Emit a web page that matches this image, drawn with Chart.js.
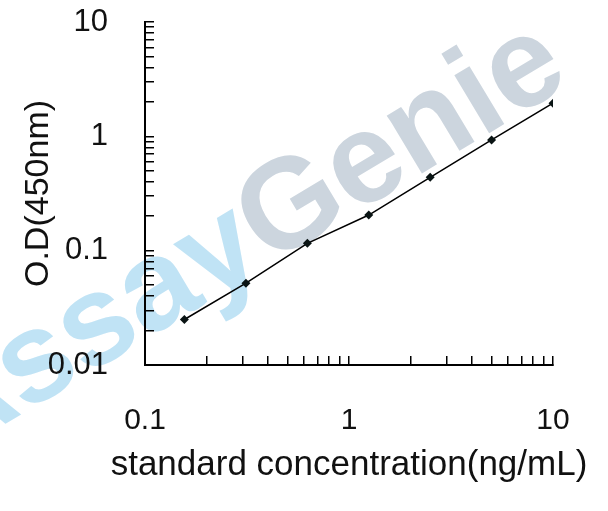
<!DOCTYPE html>
<html>
<head>
<meta charset="utf-8">
<script src="https://cdn.jsdelivr.net/npm/chart.js@4.4.0/dist/chart.umd.min.js"></script>
<style>
  html, body { margin: 0; padding: 0; background: #fff; }
  #wrap { width: 608px; height: 511px; position: relative; }
</style>
</head>
<body>
<div id="wrap"><canvas id="stdCurve"></canvas></div>
<script>
// Standard curve data
const concentrations = [0.156, 0.3125, 0.625, 1.25, 2.5, 5, 10];
const odValues = [0.025, 0.052, 0.116, 0.205, 0.438, 0.93, 1.95];

// Axis ticks
const xTickValues = [0.1, 0.2, 0.3, 0.4, 0.5, 0.6, 0.7, 0.8, 0.9, 1, 2, 3, 4, 5, 6, 7, 8, 9, 10];
const xMajorValues = [0.1, 1, 10];
const xTickLabels = ['0.1', '1', '10'];
const yTickValues = [0.01, 0.02, 0.03, 0.04, 0.05, 0.06, 0.07, 0.08, 0.09,
                     0.1, 0.2, 0.3, 0.4, 0.5, 0.6, 0.7, 0.8, 0.9,
                     1, 2, 3, 4, 5, 6, 7, 8, 9, 10];
const yMajorValues = [0.01, 0.1, 1, 10];
const yTickLabels = ['0.01', '0.1', '1', '10'];

const xTitle = 'standard concentration(ng/mL)';
const yTitle = 'O.D(450nm)';

const FONT = "'Liberation Sans', Arial, sans-serif";

function majorLabel(value, majors, labels) {
    const i = majors.findIndex(m => Math.abs(value - m) < 1e-9);
    return i >= 0 ? labels[i] : '';
}

// faint "AssayGenie" watermark behind everything
const watermark = {
    id: 'watermark',
    beforeDraw(chart) {
        const c = chart.ctx;
        c.save();
        c.translate(268, 266);
        c.rotate(-31 * Math.PI / 180);
        c.font = "bold 128px " + FONT;
        c.textBaseline = 'alphabetic';
        c.textAlign = 'right';
        c.fillStyle = 'rgb(192, 227, 245)';
        c.fillText('Assay', 0, 0);
        c.textAlign = 'left';
        c.fillStyle = 'rgb(204, 213, 222)';
        c.fillText('Genie', 0, 0);
        c.restore();
    }
};

// the x title is wider than the axis, so Chart.js would squeeze it; draw it here
const wideXTitle = {
    id: 'wideXTitle',
    afterDraw(chart) {
        const xs = chart.scales.x;
        const c = chart.ctx;
        c.save();
        c.font = "35px " + FONT;
        c.fillStyle = '#111';
        c.textAlign = 'center';
        c.textBaseline = 'middle';
        c.fillText(xTitle, (xs.left + xs.right) / 2, xs.bottom - 46);
        c.restore();
    }
};

const points = concentrations.map((x, i) => ({ x: x, y: odValues[i] }));

const ctx = document.getElementById('stdCurve').getContext('2d');
const stdChart = new Chart(ctx, {
    type: 'scatter',
    data: {
        datasets: [{
            data: points,
            showLine: true,
            borderColor: '#000',
            borderWidth: 1.5,
            backgroundColor: '#0a1414',
            pointStyle: 'rectRot',
            pointRadius: 4.5,
            pointBorderWidth: 0
        }]
    },
    options: {
        responsive: true,
        maintainAspectRatio: false,
        animation: false,
        layout: {
            padding: { top: 22, right: 55, left: 0, bottom: 0 }
        },
        plugins: {
            legend: { display: false },
            tooltip: { enabled: false }
        },
        scales: {
            x: {
                type: 'logarithmic',
                min: 0.1,
                max: 10,
                afterBuildTicks: (scale) => {
                    scale.ticks = xTickValues.map(v => ({ value: v }));
                },
                afterFit: (scale) => {
                    scale.height = 146;
                    scale.paddingLeft = 0;
                    scale.paddingRight = 0;
                },
                border: { display: true, color: '#000', width: 2 },
                grid: {
                    drawOnChartArea: false,
                    drawTicks: true,
                    tickLength: -9,
                    color: '#000',
                    lineWidth: 1.5
                },
                ticks: {
                    autoSkip: false,
                    maxRotation: 0,
                    padding: 47,
                    color: '#111',
                    font: { family: FONT, size: 30 },
                    callback: (value) => majorLabel(value, xMajorValues, xTickLabels)
                },
                title: { display: false }
            },
            y: {
                type: 'logarithmic',
                min: 0.01,
                max: 10,
                afterBuildTicks: (scale) => {
                    scale.ticks = yTickValues.map(v => ({ value: v }));
                },
                afterFit: (scale) => {
                    scale.width = 145;
                    scale.paddingTop = 0;
                    scale.paddingBottom = 0;
                },
                border: { display: true, color: '#000', width: 2 },
                grid: {
                    drawOnChartArea: false,
                    drawTicks: true,
                    tickLength: -9,
                    color: '#000',
                    lineWidth: 1.5
                },
                ticks: {
                    autoSkip: false,
                    padding: 46,
                    color: '#111',
                    font: { family: FONT, size: 31 },
                    callback: (value) => majorLabel(value, yMajorValues, yTickLabels)
                },
                title: {
                    display: true,
                    text: yTitle,
                    color: '#111',
                    font: { family: FONT, size: 34 },
                    padding: { top: 18, bottom: 0 }
                }
            }
        }
    },
    plugins: [watermark, wideXTitle]
});
</script>
</body>
</html>
